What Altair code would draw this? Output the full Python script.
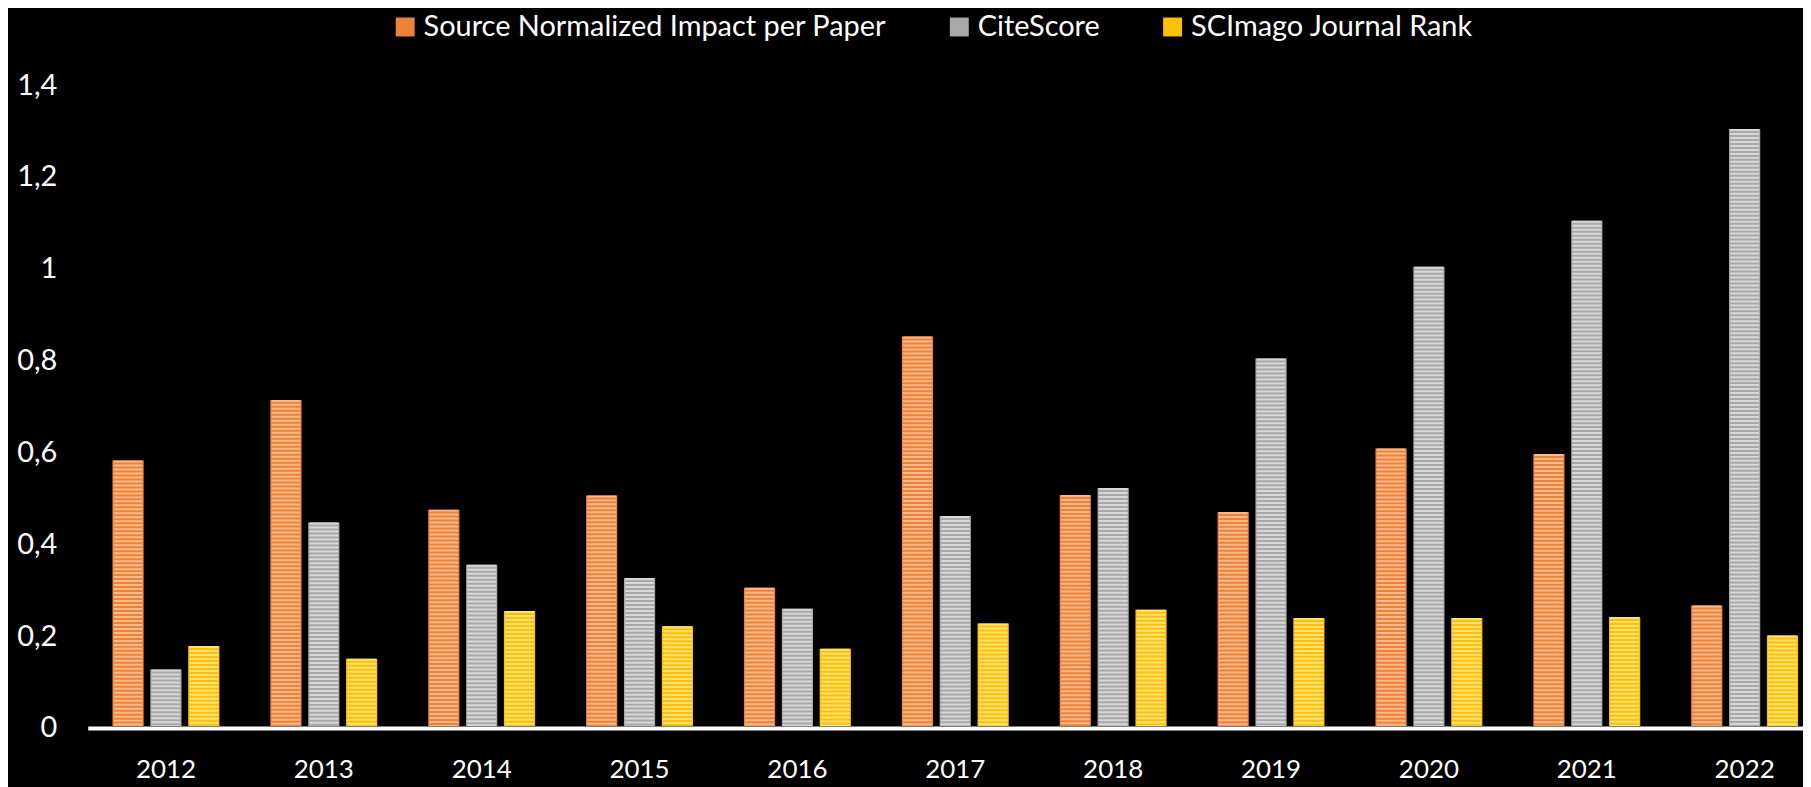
import altair as alt
import pandas as pd

years = ["2012", "2013", "2014", "2015", "2016", "2017", "2018", "2019", "2020", "2021", "2022"]
series = ["Source Normalized Impact per Paper", "CiteScore", "SCImago Journal Rank"]
snip = [0.578, 0.710, 0.471, 0.502, 0.301, 0.848, 0.503, 0.466, 0.604, 0.592, 0.262]
citescore = [0.123, 0.443, 0.351, 0.322, 0.255, 0.457, 0.518, 0.800, 1.000, 1.100, 1.300]
sjr = [0.174, 0.146, 0.250, 0.217, 0.168, 0.223, 0.253, 0.235, 0.235, 0.237, 0.197]
y_ticks = [0, 0.2, 0.4, 0.6, 0.8, 1.0, 1.2, 1.4]

base_colors = ["#EE8236", "#A8A8A8", "#FFC000"]
stripe_colors = ["#F9B98D", "#D8D8D8", "#FFE27C"]

rows = []
for i, yr in enumerate(years):
    for s, vals in zip(series, [snip, citescore, sjr]):
        rows.append({"year": yr, "series": s, "value": vals[i]})
df = pd.DataFrame(rows)

FONT = "Lato"

x = alt.X(
    "year:N",
    sort=years,
    scale=alt.Scale(paddingInner=0.3226, paddingOuter=0.0938, align=0.835, round=False),
    axis=alt.Axis(
        title=None, domainColor="white", domainWidth=4, offset=2, ticks=False,
        labelPadding=29, labelFont=FONT, labelFontSize=26, labelColor="white",
        labelAngle=0, grid=False,
    ),
)
xo = alt.XOffset(
    "series:N", sort=series,
    scale=alt.Scale(domain=series, paddingInner=0.176, paddingOuter=0, round=False),
)
y = alt.Y(
    "value:Q",
    scale=alt.Scale(domain=[0, 1.4], nice=False, zero=True),
    axis=alt.Axis(
        title=None, domain=False, ticks=False, tickSize=0, grid=False, values=y_ticks,
        labelExpr="replace(format(datum.value, '~g'), '.', ',')",
        labelFont=FONT, labelFontSize=29, labelColor="white", labelPadding=31,
        labelOffset=2,
    ),
)

bars = alt.Chart().mark_bar().encode(
    x=x,
    xOffset=xo,
    y=y,
    color=alt.Color(
        "series:N",
        sort=series,
        scale=alt.Scale(domain=series, range=base_colors),
        legend=alt.Legend(
            orient="none", legendX=304, legendY=-71, direction="horizontal",
            title=None, symbolType="square", symbolSize=361, symbolStrokeWidth=0,
            symbolOpacity=1, labelFont=FONT, labelFontSize=29, labelColor="white",
            labelOffset=4, columnPadding=58, padding=0, labelLimit=1000,
        ),
    ),
)

stripes = alt.Chart().mark_rule(strokeWidth=29, strokeDash=[2, 2], strokeCap="butt").encode(
    x=x,
    xOffset=xo,
    y=alt.Y("value:Q"),
    y2=alt.datum(0),
    stroke=alt.Stroke("series:N", sort=series,
                      scale=alt.Scale(domain=series, range=stripe_colors), legend=None),
)

chart = alt.layer(bars, stripes, data=df).properties(
    width=1721,
    height=645,
    background="black",
    padding={"left": 80, "top": 74, "right": 0, "bottom": 60},
    autosize=alt.AutoSizeParams(type="none"),
).configure_view(stroke=None)

chart.save("out.html", embed_options={"renderer": "svg", "actions": False})
